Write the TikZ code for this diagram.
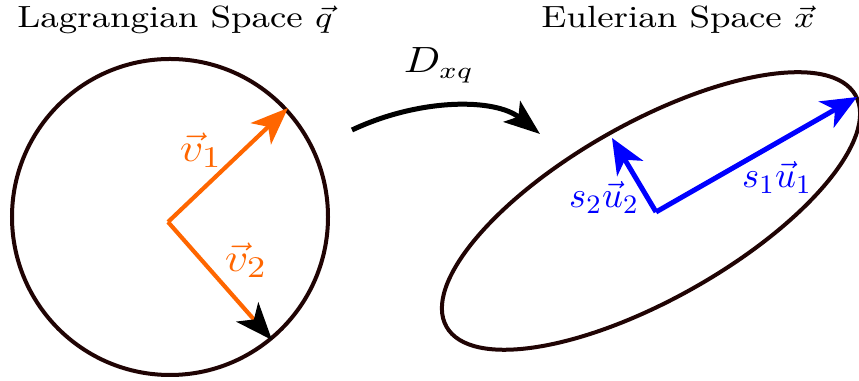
\documentclass[tikz,border=0pt]{standalone}
\usepackage{graphicx}
\usetikzlibrary{arrows.meta}
\definecolor{vorange}{RGB}{255,102,0}
\definecolor{rim}{RGB}{32,4,4}
\newcommand{\wide}[1]{\scalebox{1.17}[1]{#1}}
\begin{document}
\begin{tikzpicture}[x=0.3pt,y=-0.3pt,
  lbl/.style={anchor=base,inner sep=0pt},
  vtip/.style={-{Stealth[length=11.2pt,width=8.8pt,inset=3pt]}},
  rimline/.style={draw=rim,line width=1.2pt}]
\useasboundingbox (0,0) rectangle (859,381);
% titles
\node[lbl,font=\fontsize{9.2}{11}\selectfont] (tl) at (175,28) {\wide{Lagrangian Space $\vec{q}$}};
\node[lbl,font=\fontsize{9.2}{11}\selectfont] (te) at (678,28) {\wide{Eulerian Space $\vec{x}$}};
% circle
\coordinate (cc) at (170,217);
\draw[rimline] (cc) circle [radius=158];
% orange vectors
\coordinate (o) at (168,222);
\coordinate (v1t) at (288,108);
\coordinate (v2t) at (272,340);
\draw[vorange,line width=1.25pt,vtip] (o) -- (v1t);
\draw[vorange,line width=1.25pt,-{Stealth[length=11.2pt,width=8.8pt,inset=3pt,black]}] (o) -- (v2t);
\node[lbl,text=vorange,font=\fontsize{12.2}{14}\selectfont] (v1) at (201,162) {\wide{$\vec{v}_1$}};
\node[lbl,text=vorange,font=\fontsize{12.2}{14}\selectfont] (v2) at (246,272) {\wide{$\vec{v}_2$}};
% mapping arrow
\coordinate (ms) at (352,130);
\coordinate (me) at (540,134);
\draw[line width=1.5pt,-{Stealth[length=10.8pt,width=8pt,inset=2.5pt]}] (ms) .. controls (420,98) and (495,98) .. (me);
\node[lbl,font=\fontsize{10.6}{12}\selectfont] (d) at (439,73) {\wide{$D_{xq}$}};
% ellipse
\coordinate (ec) at (651,211);
\draw[rimline,rotate around={29.5:(ec)}] (ec) ellipse [x radius=235, y radius=88];
% blue vectors
\coordinate (b) at (656,212);
\coordinate (u1t) at (857,97);
\coordinate (u2t) at (612,138);
\draw[blue,line width=1.5pt,-{Stealth[length=10.6pt,width=9pt,inset=3pt]}] (b) -- (u1t);
\draw[blue,line width=1.5pt,-{Stealth[length=10.6pt,width=9pt,inset=3pt]}] (b) -- (u2t);
\node[lbl,text=blue,font=\fontsize{10.9}{13}\selectfont] (u1) at (777,188) {$s_1\vec{u}_1$};
\node[lbl,text=blue,font=\fontsize{10.9}{13}\selectfont] (u2) at (604,208) {$s_2\vec{u}_2$};
\end{tikzpicture}
\end{document}
